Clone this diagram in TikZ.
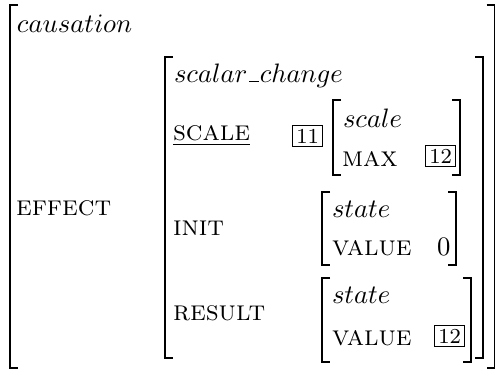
\documentclass[tikz,border=0pt]{standalone}
\setlength{\fboxsep}{1.2pt}
\setlength{\fboxrule}{0.4pt}
\newcommand{\tagbox}[1]{\fbox{\footnotesize #1}}
\newcommand{\feat}[1]{{\fontsize{10.6}{12}\selectfont\textsc{#1}}}
\newcommand{\undsc}{\mbox{\kern0.6pt\rule{3.6pt}{0.4pt}\kern0.4pt}}
\newcommand{\lbrk}[3]{\draw[brk] ({#1+8},{#2}) -- ({#1},{#2}) -- ({#1},{#3}) -- ({#1+8},{#3});}
\newcommand{\rbrk}[3]{\draw[brk] ({#1-8},{#2}) -- ({#1},{#2}) -- ({#1},{#3}) -- ({#1-8},{#3});}
\begin{document}
\begin{tikzpicture}[x=0.375pt,y=-0.375pt,
  txt/.style={anchor=base west, inner sep=0pt, outer sep=0pt},
  brk/.style={line width=0.7pt, line cap=butt, line join=miter}]
\useasboundingbox (0,0) rectangle (495,372);
% outer AVM
\lbrk{10}{5}{368}
\rbrk{494.5}{5}{368}
\node[txt] (caus) at (17,32) {$causation$};
\node[txt] (effect) at (16,215) {\feat{effect}};
% scalar change AVM
\lbrk{165}{57}{358}
\rbrk{483}{57}{358}
\node[txt] (sc) at (174,82) {$scalar\undsc change$};
\node[txt] (scale) at (173,140) {\underline{\feat{scale}}};
\node[txt] (t11) at (292,143) {\tagbox{11}};
% scale AVM
\lbrk{333}{100}{175}
\rbrk{460}{100}{175}
\node[txt] (scl) at (343,127) {$scale$};
\node[txt] (max) at (342,166) {\feat{max}};
\node[txt] (t12a) at (425,163) {\tagbox{12}};
% init
\node[txt] (init) at (173,235) {\feat{init}};
\lbrk{322}{192}{265}
\rbrk{456}{192}{265}
\node[txt] (st1) at (332,217) {$state$};
\node[txt] (val1) at (332,255) {\feat{value}};
\node[txt] (zero) at (437,255) {0};
% result
\node[txt] (result) at (173,320) {\feat{result}};
\lbrk{322}{278}{362}
\rbrk{471}{278}{362}
\node[txt] (st2) at (332,303) {$state$};
\node[txt] (val2) at (332,345) {\feat{value}};
\node[txt] (t12b) at (434,343) {\tagbox{12}};
\end{tikzpicture}
\end{document}
